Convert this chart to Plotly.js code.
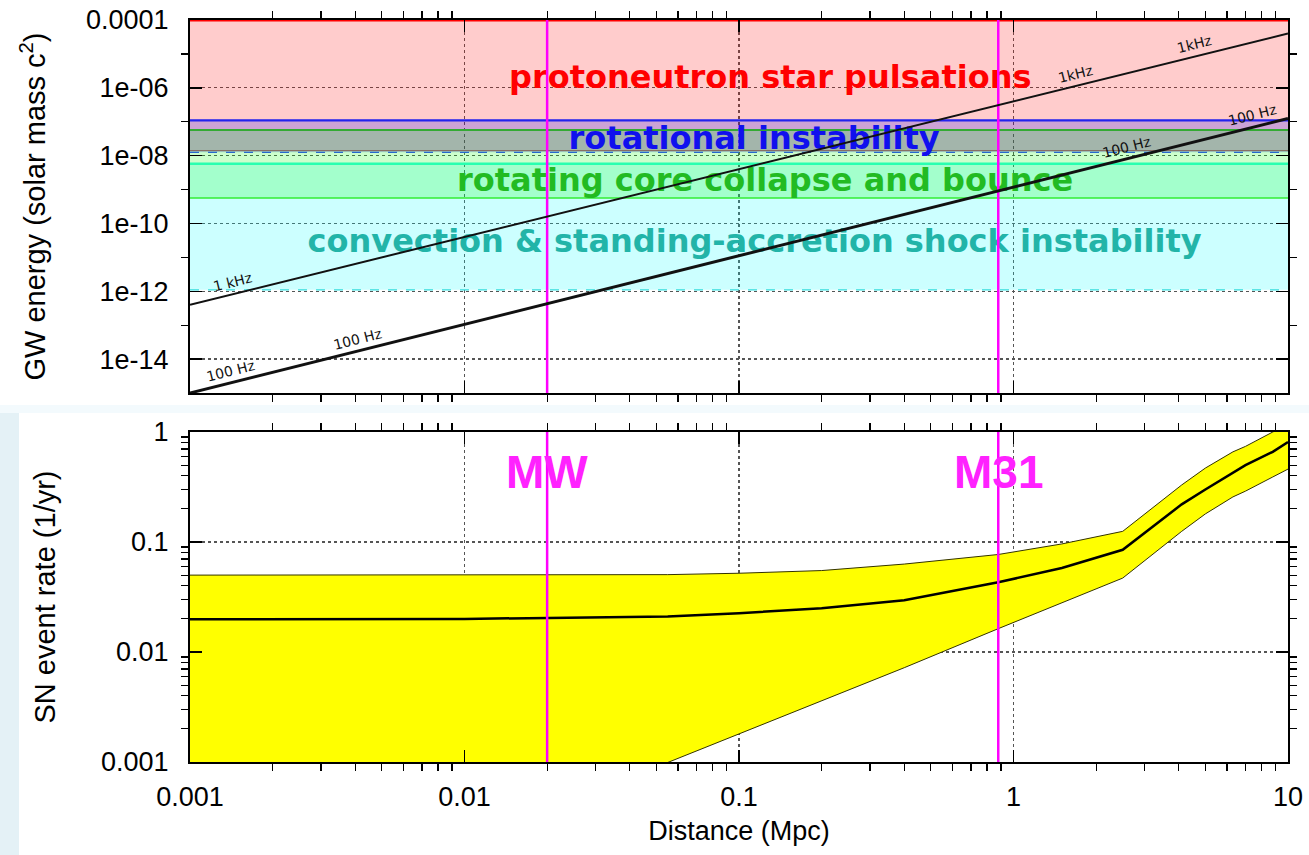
<!DOCTYPE html>
<html>
<head>
<meta charset="utf-8">
<script src="https://cdn.plot.ly/plotly-3.0.1.min.js"></script>
<style>html,body{margin:0;padding:0;background:#fff;}#chart{width:1309px;height:855px;}</style>
</head>
<body>
<div id="chart"></div>
<script>
// ---------- data ----------
// top panel: GW energy bands (solar mass c^2)
const bandNames  = ["protoneutron star pulsations", "rotational instability", "convection & standing-accretion shock instability", "rotating core collapse and bounce"];
const bandLow    = [1.4e-8, 1.25e-8, 1.1e-12, 5.6e-10];
const bandHigh   = [1e-4, 1.1e-7, 5.8e-9, 5.7e-8];
const bandLabelX = [0.130, 0.1135, 0.114, 0.1245];
const bandLabelY = [1.7e-6, 2.7e-8, 2.5e-11, 1.6e-9];

// detection-limit lines: energy vs distance
const lineDist   = [0.001, 10];
const energy1kHz = [4e-13, 4e-5];
const energy100Hz = [1e-15, 1.25e-7];
const label1kHzDist  = [0.00143, 1.68, 4.58];
const label1kHzText  = ["1 kHz", "1kHz", "1kHz"];
const label100HzDist = [0.0014, 0.00409, 2.59, 7.4];
const label100HzText = ["100 Hz", "100 Hz", "100 Hz", "100 Hz"];

// galaxies
const galaxyNames = ["MW", "M31"];
const galaxyDist  = [0.02, 0.88];

// bottom panel: SN event rate (1/yr) vs distance (Mpc)
const rateDist  = [0.001, 0.01, 0.055, 0.1, 0.2, 0.4, 0.88, 1.5, 2.5, 4.1, 5, 6.3, 7, 8.8, 10];
const rateMid   = [0.0198, 0.0200, 0.0210, 0.0225, 0.025, 0.0295, 0.043, 0.058, 0.085, 0.22, 0.30, 0.43, 0.50, 0.66, 0.81];
const rateUpper = [0.050, 0.050, 0.0505, 0.052, 0.055, 0.063, 0.077, 0.096, 0.125, 0.33, 0.47, 0.66, 0.74, 1.0, 1.17];
const rateLower = [0.000018, 0.00018, 0.001, 0.0018, 0.0036, 0.0072, 0.0163, 0.028, 0.047, 0.125, 0.18, 0.257, 0.29, 0.39, 0.46];

// tick labels
const xTickVals = [0.001, 0.01, 0.1, 1, 10];
const xTickText = ["0.001", "0.01", "0.1", "1", "10"];
const yTopTickVals = [1e-14, 1e-12, 1e-10, 1e-8, 1e-6, 1e-4];
const yTopTickText = ["1e-14", "1e-12", "1e-10", "1e-08", "1e-06", "0.0001"];
const yBotTickVals = [0.001, 0.01, 0.1, 1];
const yBotTickText = ["0.001", "0.01", "0.1", "1"];

// ---------- styles ----------
const bandFill = ["rgba(255,0,0,0.2)", "rgba(0,0,255,0.2)", "rgba(0,255,255,0.2)", "rgba(0,255,0,0.2)"];
const bandTopLine = [{color:"#ff0000", width:3}, {color:"#2222ee", width:2.2}, {color:"#33ffdd", width:2.5}, {color:"#33aa33", width:2}];
const bandLowLine = [{color:"#cc4444", width:1}, {color:"#3344ff", width:1.2, dash:"dash"}, {color:"#33dddd", width:1.2, dash:"dash"}, {color:"#33ee33", width:1.5}];
const bandTextColor = ["#ff0000", "#1010ee", "#22b4a8", "#22bb22"];

const xRange = [-3, 1], yTopRange = [-15, -4], yBotRange = [-3, 0];

function minorVals(lo, hi) {
  const v = [];
  for (let e = lo; e < hi; e++) for (let m = 2; m <= 9; m++) v.push(m * Math.pow(10, e));
  return v;
}
function oddDecades(lo, hi) {
  const v = [];
  for (let e = lo; e <= hi; e++) if (Math.abs(e) % 2 === 1) v.push(Math.pow(10, e));
  return v;
}
function logInterp(xs, ys, x) {
  const lx0 = Math.log10(xs[0]), lx1 = Math.log10(xs[1]);
  const ly0 = Math.log10(ys[0]), ly1 = Math.log10(ys[1]);
  return ly0 + (Math.log10(x) - lx0) * (ly1 - ly0) / (lx1 - lx0);
}

const tickFont = {family: "Liberation Sans, Arial, sans-serif", size: 27, color: "#000"};
const titleFont = {family: "Liberation Sans, Arial, sans-serif", size: 29, color: "#000"};

const traces = [];
const xFull = [Math.pow(10, xRange[0]), Math.pow(10, xRange[1])];

// bands
bandNames.forEach((name, i) => {
  traces.push({x: xFull, y: [bandLow[i], bandLow[i]], xaxis: "x2", yaxis: "y2", mode: "lines",
    line: bandLowLine[i], hoverinfo: "skip", showlegend: false});
  traces.push({x: xFull, y: [bandHigh[i], bandHigh[i]], xaxis: "x2", yaxis: "y2", mode: "lines",
    fill: "tonexty", fillcolor: bandFill[i], line: bandTopLine[i], name: name, showlegend: false});
});
// band labels (under the lines)
bandNames.forEach((name, i) => {
  traces.push({x: [bandLabelX[i]], y: [bandLabelY[i]], xaxis: "x2", yaxis: "y2", mode: "text",
    text: [name], textposition: "middle center",
    textfont: {family: "DejaVu Sans, sans-serif", size: 32, weight: "bold", color: bandTextColor[i]},
    hoverinfo: "skip", showlegend: false});
});
// galaxy lines
galaxyDist.forEach((d) => {
  traces.push({x: [d, d], y: [Math.pow(10, yTopRange[0]), Math.pow(10, yTopRange[1])], xaxis: "x2", yaxis: "y2",
    mode: "lines", line: {color: "#ff00ff", width: 2.5}, hoverinfo: "skip", showlegend: false});
});
// detection lines
traces.push({x: lineDist, y: energy1kHz, xaxis: "x2", yaxis: "y2", mode: "lines",
  line: {color: "#111", width: 2}, name: "1 kHz", showlegend: false});
traces.push({x: lineDist, y: energy100Hz, xaxis: "x2", yaxis: "y2", mode: "lines",
  line: {color: "#111", width: 3}, name: "100 Hz", showlegend: false});

// bottom panel
traces.push({x: rateDist, y: rateLower, xaxis: "x", yaxis: "y", mode: "lines",
  line: {color: "#333300", width: 1}, hoverinfo: "skip", showlegend: false});
traces.push({x: rateDist, y: rateUpper, xaxis: "x", yaxis: "y", mode: "lines", fill: "tonexty",
  fillcolor: "#ffff00", line: {color: "#333300", width: 1}, hoverinfo: "skip", showlegend: false});
traces.push({x: rateDist, y: rateMid, xaxis: "x", yaxis: "y", mode: "lines",
  line: {color: "#000", width: 2.5}, name: "SN rate", showlegend: false});
galaxyDist.forEach((d) => {
  traces.push({x: [d, d], y: [Math.pow(10, yBotRange[0]), Math.pow(10, yBotRange[1])], xaxis: "x", yaxis: "y",
    mode: "lines", line: {color: "#ff00ff", width: 2.5}, hoverinfo: "skip", showlegend: false});
});

// annotations
const annotations = [];
const lineAngle = -14;
label1kHzDist.forEach((d, i) => {
  annotations.push({xref: "x2", yref: "y2", x: Math.log10(d), y: logInterp(lineDist, energy1kHz, d),
    text: label1kHzText[i], showarrow: false, textangle: lineAngle, yshift: 12,
    font: {family: "DejaVu Sans, sans-serif", size: 14, color: "#111"}});
});
label100HzDist.forEach((d, i) => {
  annotations.push({xref: "x2", yref: "y2", x: Math.log10(d), y: logInterp(lineDist, energy100Hz, d),
    text: label100HzText[i], showarrow: false, textangle: lineAngle, yshift: 12,
    font: {family: "DejaVu Sans, sans-serif", size: 14, color: "#111"}});
});
galaxyNames.forEach((n, i) => {
  annotations.push({xref: "x", yref: "y", x: Math.log10(galaxyDist[i]), y: Math.log10(0.43),
    text: "<b>" + n + "</b>", showarrow: false,
    font: {family: "Liberation Sans, Arial, sans-serif", size: 46, color: "#ff22ff"}});
});

// background strips (outside the plot areas)
const L = 190, W = 1098, B = 762, H = 742;
const px = (v) => (v - L) / W, py = (v) => (B - v) / H;
const shapes = [
  {type: "rect", xref: "paper", yref: "paper", x0: px(0), x1: px(1309), y0: py(413), y1: py(405),
    fillcolor: "#f3fafd", line: {width: 0}, layer: "below"},
  {type: "rect", xref: "paper", yref: "paper", x0: px(0), x1: px(19), y0: py(855), y1: py(413),
    fillcolor: "#e4f1f6", line: {width: 0}, layer: "below"}
];

const commonAxis = {
  type: "log", showline: true, linecolor: "#000", linewidth: 2, mirror: "allticks",
  ticks: "inside", ticklen: 12, tickwidth: 1.5, tickcolor: "#000",
  showgrid: true, gridcolor: "#555", griddash: "dot", gridwidth: 1.2, zeroline: false,
  tickfont: tickFont
};

const layout = {
  width: 1309, height: 855,
  margin: {l: 190, r: 21, t: 20, b: 93},
  paper_bgcolor: "#ffffff", plot_bgcolor: "#ffffff",
  showlegend: false,
  xaxis: Object.assign({}, commonAxis, {
    range: xRange, domain: [0, 1], anchor: "y",
    tickmode: "array", tickvals: xTickVals, ticktext: xTickText, ticklabelstandoff: 10,
    minor: {tickmode: "array", tickvals: minorVals(-3, 1), ticklen: 7, tickwidth: 1.2, tickcolor: "#000", showgrid: false},
    title: {text: "Distance (Mpc)", font: {family: "Liberation Sans, Arial, sans-serif", size: 27, color: "#000"}, standoff: 10}
  }),
  yaxis: Object.assign({}, commonAxis, {
    range: yBotRange, domain: [0, (762 - 432) / 742], anchor: "x",
    tickmode: "array", tickvals: yBotTickVals, ticktext: yBotTickText, ticklabelstandoff: 14,
    minor: {tickmode: "array", tickvals: minorVals(-3, 0), ticklen: 7, tickwidth: 1.2, tickcolor: "#000", showgrid: false},
    title: {text: "SN event rate (1/yr)", font: titleFont, standoff: 37}
  }),
  xaxis2: Object.assign({}, commonAxis, {
    range: xRange, domain: [0, 1], anchor: "y2", showticklabels: false,
    tickmode: "array", tickvals: xTickVals, ticktext: xTickText,
    minor: {tickmode: "array", tickvals: minorVals(-3, 1), ticklen: 7, tickwidth: 1.2, tickcolor: "#000", showgrid: false}
  }),
  yaxis2: Object.assign({}, commonAxis, {
    range: yTopRange, domain: [(762 - 393) / 742, 1], anchor: "x2",
    tickmode: "array", tickvals: yTopTickVals, ticktext: yTopTickText, ticklabelstandoff: 14,
    minor: {tickmode: "array", tickvals: oddDecades(-15, -4), ticklen: 7, tickwidth: 1.2, tickcolor: "#000", showgrid: false},
    title: {text: "GW energy (solar mass c<sup>2</sup>)", font: titleFont, standoff: 32}
  }),
  annotations: annotations,
  shapes: shapes
};

Plotly.newPlot("chart", traces, layout, {displayModeBar: false, staticPlot: true});
</script>
</body>
</html>
